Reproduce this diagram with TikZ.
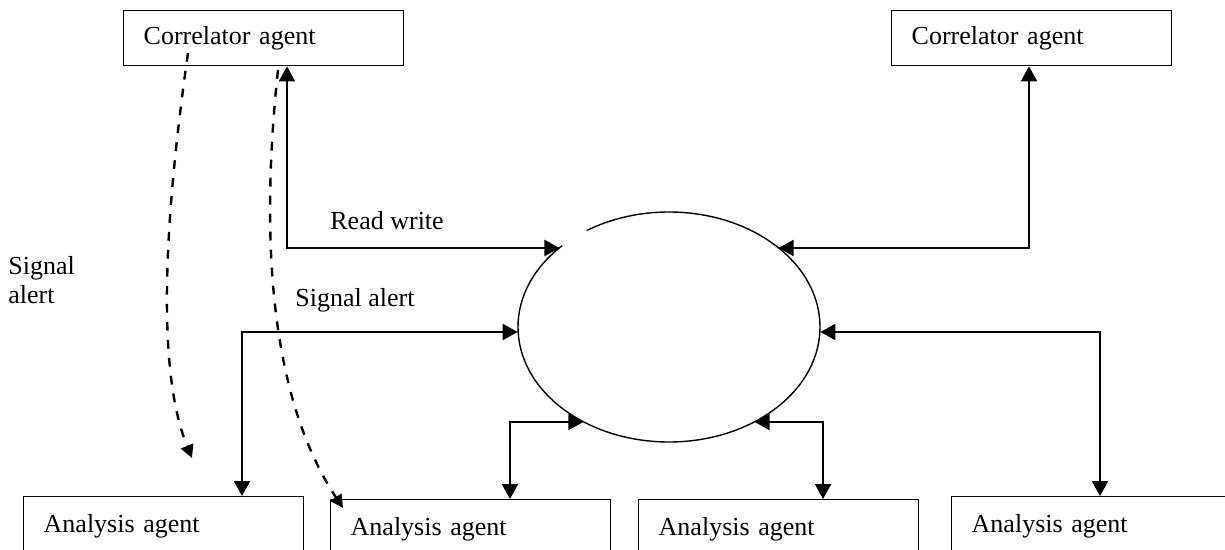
\documentclass[tikz,border=0pt]{standalone}
\usepackage{fontspec}
\setmainfont{Liberation Serif}
\usetikzlibrary{arrows.meta,shapes.geometric,calc}
\begin{document}
\begin{tikzpicture}[x=0.5pt,y=-0.5pt,
  font=\fontsize{13}{14.5}\selectfont,
  agentbox/.style={draw,line width=0.7pt,anchor=north west,minimum width=140pt,
    text width=120pt,inner xsep=10pt,inner ysep=0pt,align=left},
  topbox/.style={agentbox,minimum height=27.5pt},
  lowbox/.style={agentbox,minimum height=30pt},
  rwlink/.style={line width=1.1pt,
    {Triangle[length=7.5pt,width=8pt]}-{Triangle[length=7.5pt,width=8pt]}},
  alertpath/.style={line width=1.2pt,dash pattern=on 4.4pt off 4.6pt,
    -{Triangle[length=6.5pt,width=6.5pt]}},
  lbl/.style={inner sep=0pt}
]
\useasboundingbox (0,0) rectangle (1225,550);
\clip (0,0) rectangle (1225,550);

% agents
\node[topbox] (cl) at (123,10) {Correlator agent};
\node[topbox] (cr) at (891,10) {Correlator agent};
\node[lowbox] (a1) at (23,496)  {Analysis agent};
\node[lowbox] (a2) at (330,499) {Analysis agent};
\node[lowbox] (a3) at (638,499) {Analysis agent};
\node[lowbox] (a4) at (951,496) {Analysis agent};

% shared blackboard (outline drawn as an open arc)
\node[ellipse,minimum width=151pt,minimum height=115pt,inner sep=0pt] (hub) at (669,327) {};
\draw[line width=0.7pt] ($(hub.center)+(135:75.5pt and 57.5pt)$)
  arc[start angle=135,end angle=483,x radius=75.5pt,y radius=57.5pt];

% read/write links
\coordinate (k1) at (287,248);
\draw[rwlink] (cl.south -| k1) -- (k1) -- (k1 -| hub.144);
\coordinate (k2) at (1029,248);
\draw[rwlink] (cr.south -| k2) -- (k2) -- (k2 -| hub.36);
\coordinate (k3) at (242,332);
\draw[rwlink] (a1.north -| k3) -- (k3) -- (k3 -| hub.west);
\coordinate (k4) at (1100,332);
\draw[rwlink] (a4.north -| k4) -- (k4) -- (k4 -| hub.east);
\coordinate (k5) at (510,422);
\draw[rwlink] (a2.north -| k5) -- (k5) -- (k5 -| hub.228);
\coordinate (k6) at (823,422);
\draw[rwlink] (a3.north -| k6) -- (k6) -- (k6 -| hub.312);

% signal alerts
\coordinate (sA) at (188,53);
\coordinate (eA) at (192,458);
\draw[alertpath] (sA) .. controls (160,250) and (160,380) .. (eA);
\coordinate (sB) at (278,70);
\coordinate (eB) at (343,508);
\draw[alertpath] (sB) .. controls (262,220) and (265,390) .. (eB);

% labels
\node[lbl,anchor=base west] (rw) at (330,230) {Read write};
\node[lbl,anchor=base west] (sa1) at (295,307) {Signal alert};
\node[lbl,anchor=north west,align=left] (sa2) at (8,256) {Signal\\alert};
\end{tikzpicture}
\end{document}
